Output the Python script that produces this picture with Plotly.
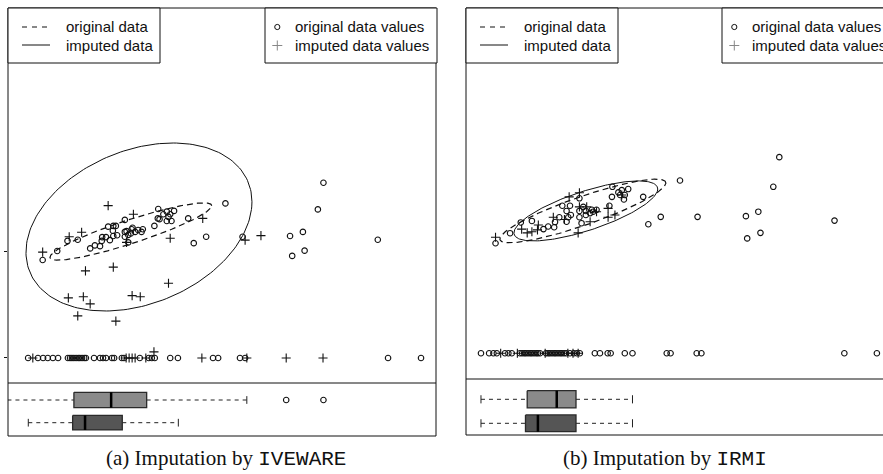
import numpy as np
import plotly.graph_objects as go

W, H = 883, 474

# ---------------- panel (a): IVEWARE ----------------
a_orig_x = [8.1, 11.5, 13.9, 16.3, 19.2, 20.3, 21.5, 21.9, 22.0, 22.9, 23.8, 23.4, 24.5, 24.6, 25.2,
            24.6, 25.5, 27.3, 27.3, 27.7, 28.1, 28.7, 28.9, 29.1, 29.7, 30.4, 31.2, 31.5, 28.1, 27.3,
            34.2, 35.1, 35.0, 35.4, 36.3, 37.1, 37.5, 37.9, 37.1, 38.2, 38.8, 42.1, 43.4, 46.3, 50.8,
            54.8, 65.9, 68.9, 66.4, 69.3, 72.4, 73.7, 86.4]
a_orig_y = [32.8, 35.2, 37.9, 38.2, 35.9, 36.7, 36.5, 37.9, 38.9, 38.9, 38.1, 41.7, 40.6, 41.9, 41.9,
            39.2, 39.4, 43.5, 40.3, 40.5, 39.5, 39.9, 41.0, 41.4, 40.3, 40.8, 40.3, 41.0, 37.5, 39.0,
            41.9, 46.4, 43.9, 43.7, 45.0, 45.7, 44.3, 45.0, 43.2, 43.2, 45.9, 43.9, 37.3, 39.0, 47.9,
            39.0, 39.2, 40.3, 33.9, 35.3, 46.3, 53.4, 38.2]
a_imp_x = [8.1, 23.4, 29.3, 45.5, 14.3, 17.2, 27.7, 37.9, 55.4, 59.1, 18.1, 24.6, 37.5, 14.1, 17.6,
           19.2, 29.0, 30.9, 16.3, 25.2]
a_imp_y = [34.9, 47.3, 45.0, 43.9, 39.0, 40.2, 37.5, 38.6, 38.1, 39.3, 29.9, 30.9, 26.6, 22.7, 23.0,
           21.1, 23.3, 23.0, 17.9, 16.5]
a_miss_level = 6.67
a_miss_orig_x = [4.7, 7.0, 8.2, 9.3, 10.5, 11.7, 14.0, 14.5, 14.95, 15.4, 15.9, 16.4, 16.8, 17.3, 17.8,
                 18.2, 20.1, 21.5, 22.2, 22.9, 24.3, 24.8, 26.6, 27.1, 30.8, 32.9, 33.6, 34.3, 37.9,
                 39.7, 47.9, 49.1, 54.2, 55.4, 88.8, 96.5]
a_miss_imp_x = [5.8, 27.6, 28.3, 29.0, 29.7, 32.2, 34.1, 45.3, 55.8, 65.0, 73.6]
a_miss_imp_y = [6.67, 6.67, 6.67, 6.67, 6.67, 6.67, 8.3, 6.67, 6.67, 6.67, 6.67]
# ellipses: centre x, centre y, sd x, sd y, correlation
a_ell_orig = [28.7, 40.4, 18.9, 7.63, 0.90]
a_ell_imp = [30.6, 41.6, 26.4, 22.4, 0.30]
# boxplots: lower whisker, q1, median, q3, upper whisker
a_box_orig = [-2.0, 15.4, 24.1, 32.4, 55.8]
a_box_orig_out = [65.0, 73.7]
a_box_imp = [4.74, 15.1, 18.0, 26.7, 39.8]
a_box_imp_out = []

# ---------------- panel (b): IRMI ----------------
b_orig_x = [6.9, 10.3, 12.8, 15.4, 18.1, 19.2, 20.6, 20.8, 21.8, 22.5, 23.9, 23.5, 24.3, 24.5, 23.5,
            26.5, 26.5, 26.5, 27.0, 27.4, 28.0, 28.0, 29.0, 29.4, 29.7, 30.5, 34.2, 33.5, 34.1, 35.6,
            36.0, 36.4, 36.9, 37.1, 37.9, 41.4, 42.6, 45.5, 50.0, 54.1, 65.4, 68.3, 65.7, 68.8, 71.8,
            73.2, 86.1]
b_orig_y = [36.6, 39.3, 42.2, 42.6, 40.4, 41.1, 40.9, 42.3, 43.6, 46.7, 43.6, 45.3, 46.7, 44.2, 42.4,
            48.7, 45.3, 43.6, 42.0, 46.4, 45.3, 44.2, 44.7, 45.6, 45.1, 45.6, 51.8, 46.7, 49.1, 50.3,
            49.6, 50.9, 48.4, 49.6, 51.2, 49.1, 41.7, 43.7, 53.5, 43.7, 43.9, 45.1, 37.9, 39.4, 51.8,
            59.8, 42.7]
b_imp_x = [6.9, 13.0, 14.3, 15.4, 16.7, 16.9, 24.1, 26.5, 26.5, 28.2, 29.0, 33.2, 33.2, 34.8, 26.2,
           20.4, 23.0, 30.5, 36.4]
b_imp_y = [38.2, 40.4, 39.4, 39.7, 40.2, 41.5, 49.1, 50.2, 46.4, 46.4, 42.4, 46.0, 43.6, 44.2, 39.4,
           43.6, 43.0, 45.1, 49.6]
b_miss_level = 6.93
b_miss_orig_x = [3.5, 5.4, 6.4, 7.2, 9.1, 9.9, 10.7, 12.6, 13.1, 13.6, 14.0, 14.5, 15.0, 15.4, 15.9,
                 16.4, 16.8, 17.3, 18.7, 19.2, 19.6, 20.1, 20.6, 21.0, 21.5, 22.0, 22.4, 22.9, 23.4,
                 24.3, 25.2, 25.9, 26.6, 30.1, 31.3, 33.1, 33.8, 37.1, 38.9, 46.9, 47.8, 53.9, 55.0,
                 88.4, 96.0]
b_miss_imp_x = [8.1, 12.0, 18.5, 23.8, 25.0, 26.2]
b_ell_orig = [27.3, 45.3, 19.4, 8.57, 0.88]
b_ell_imp = [28.0, 45.3, 16.8, 8.09, 0.73]
b_box_orig = [3.5, 14.3, 21.2, 25.7, 38.9]
b_box_imp = [3.5, 13.9, 16.8, 25.7, 38.9]

legend_line_labels = ["original data", "imputed data"]
legend_point_labels = ["original data values", "imputed data values"]
captions = [("(a) Imputation by ", "IVEWARE"), ("(b) Imputation by ", "IRMI")]

# ---------------- helpers ----------------
def px(p):
    return p / W


def py(p):
    return 1 - p / H


def ellipse(par, n=200):
    cx, cy, sx, sy, r = par
    t = np.linspace(0, 2 * np.pi, n)
    x = cx + sx * np.cos(t)
    y = cy + sy * (r * np.cos(t) + np.sqrt(1 - r * r) * np.sin(t))
    return x, y


fig = go.Figure()
BLACK = "#111111"
circ = dict(symbol="circle-open", size=5.5, color=BLACK, line=dict(width=1.1, color=BLACK))
cross = dict(symbol="cross-thin-open", size=6.5, color=BLACK, line=dict(width=1.1, color=BLACK))


def scatter_panel(xa, ya, ox, oy, ix, iy, mox, mlev, mix, miy, e_orig, e_imp):
    fig.add_trace(go.Scatter(x=ox, y=oy, mode="markers", marker=circ, xaxis=xa, yaxis=ya))
    fig.add_trace(go.Scatter(x=ix, y=iy, mode="markers", marker=cross, xaxis=xa, yaxis=ya))
    fig.add_trace(go.Scatter(x=mox, y=[mlev] * len(mox), mode="markers", marker=circ, xaxis=xa, yaxis=ya))
    fig.add_trace(go.Scatter(x=mix, y=miy, mode="markers", marker=cross, xaxis=xa, yaxis=ya))
    ex, ey = ellipse(e_orig)
    fig.add_trace(go.Scatter(x=ex, y=ey, mode="lines", line=dict(color=BLACK, width=1.2, dash="6px,4px"),
                             xaxis=xa, yaxis=ya))
    ex, ey = ellipse(e_imp)
    fig.add_trace(go.Scatter(x=ex, y=ey, mode="lines", line=dict(color=BLACK, width=1),
                             xaxis=xa, yaxis=ya))


def add_box(xa, ya, st, pos, half, fill, outl):
    lo, q1, med, q3, hi = st
    c = 0.17
    dash = dict(color="#222", width=1, dash="4px,4px")
    fig.add_trace(go.Scatter(x=[lo, q1], y=[pos, pos], mode="lines", line=dash, xaxis=xa, yaxis=ya))
    fig.add_trace(go.Scatter(x=[q3, hi], y=[pos, pos], mode="lines", line=dash, xaxis=xa, yaxis=ya))
    for v in (lo, hi):
        fig.add_trace(go.Scatter(x=[v, v], y=[pos - c, pos + c], mode="lines",
                                 line=dict(color="#222", width=1), xaxis=xa, yaxis=ya))
    fig.add_trace(go.Scatter(x=[q1, q3, q3, q1, q1], y=[pos - half, pos - half, pos + half, pos + half, pos - half],
                             mode="lines", fill="toself", fillcolor=fill,
                             line=dict(color="#2a2a2a", width=1.3), xaxis=xa, yaxis=ya))
    fig.add_trace(go.Scatter(x=[med, med], y=[pos - half, pos + half], mode="lines",
                             line=dict(color="#000", width=2.5), xaxis=xa, yaxis=ya))
    if outl:
        fig.add_trace(go.Scatter(x=outl, y=[pos] * len(outl), mode="markers", marker=circ, xaxis=xa, yaxis=ya))


scatter_panel("x", "y", a_orig_x, a_orig_y, a_imp_x, a_imp_y, a_miss_orig_x, a_miss_level,
              a_miss_imp_x, a_miss_imp_y, a_ell_orig, a_ell_imp)
add_box("x2", "y2", a_box_orig, 1, 0.34, "#8a8a8a", a_box_orig_out)
add_box("x2", "y2", a_box_imp, 2, 0.32, "#555555", a_box_imp_out)

scatter_panel("x3", "y3", b_orig_x, b_orig_y, b_imp_x, b_imp_y, b_miss_orig_x, b_miss_level,
              b_miss_imp_x, [b_miss_level] * len(b_miss_imp_x), b_ell_orig, b_ell_imp)
add_box("x4", "y4", b_box_orig, 1, 0.36, "#8a8a8a", [])
add_box("x4", "y4", b_box_imp, 2, 0.35, "#555555", [])

ax_common = dict(showgrid=False, zeroline=False, showline=False, showticklabels=False, ticks="")
layout = dict(
    width=W, height=H, margin=dict(l=0, r=0, t=0, b=0),
    paper_bgcolor="white", plot_bgcolor="white", showlegend=False,
    xaxis=dict(domain=[px(8), px(436)], range=[0, 100], anchor="y", **ax_common),
    yaxis=dict(domain=[py(383), py(8)], range=[0, 100], anchor="x", showgrid=False, zeroline=False,
               showline=False, showticklabels=False, ticks="outside", ticklen=3, tickcolor=BLACK,
               tickvals=[a_miss_level, 35.2]),
    xaxis2=dict(domain=[px(8), px(436)], range=[0, 100], anchor="y2", **ax_common),
    yaxis2=dict(domain=[py(436), py(383)], range=[2.586, 0.251], anchor="x2", **ax_common),
    xaxis3=dict(domain=[px(466), 1], range=[0, (W - 466) / 4.28], anchor="y3", **ax_common),
    yaxis3=dict(domain=[py(379), py(8)], range=[0, 100], anchor="x3", **ax_common),
    xaxis4=dict(domain=[px(466), 1], range=[0, (W - 466) / 4.28], anchor="y4", **ax_common),
    yaxis4=dict(domain=[py(435), py(379)], range=[2.487, 0.154], anchor="x4", **ax_common),
)
fig.update_layout(**layout)

shapes = []
annotations = []
LW = dict(color=BLACK, width=1)


def rect(x0, y0, x1, y1, fill=None):
    d = dict(type="rect", xref="paper", yref="paper", x0=px(x0), x1=px(x1), y0=py(y1), y1=py(y0), line=LW,
             layer="above")
    if fill:
        d["fillcolor"] = fill
    shapes.append(d)


def hline(x0, x1, y, dash=None, color=BLACK):
    shapes.append(dict(type="line", xref="paper", yref="paper", x0=px(x0), x1=px(x1), y0=py(y), y1=py(y),
                       line=dict(color=color, width=1, dash=dash) if dash else dict(color=color, width=1),
                       layer="above"))


def text(x, y, s, size=15, anchor="left", family="Liberation Sans, Arial, sans-serif"):
    annotations.append(dict(xref="paper", yref="paper", x=px(x), y=py(y), text=s, showarrow=False,
                            xanchor=anchor, yanchor="middle", font=dict(family=family, size=size, color=BLACK)))


for (L, R, div, bot, lg2) in [(8, 436, 383, 436, 265), (466, 900, 379, 435, 722)]:
    rect(L, 8, R, bot)
    hline(L, R, div)
    # legend boxes
    rect(L, 8, L + 152, 63, fill="white")
    rect(lg2, 8, lg2 + 172, 63, fill="white")
    hline(L + 14, L + 42, 27, dash="5px,5px")
    hline(L + 14, L + 42, 45)
    text(L + 56, 27, legend_line_labels[0])
    text(L + 56, 45.5, legend_line_labels[1])
    cx = lg2 + 12.3
    shapes.append(dict(type="circle", xref="paper", yref="paper", x0=px(cx - 2.6), x1=px(cx + 2.6),
                       y0=py(27 + 2.6), y1=py(27 - 2.6), line=dict(color=BLACK, width=1), layer="above"))
    hline(cx - 5, cx + 5, 45.5, color="#888888")
    shapes.append(dict(type="line", xref="paper", yref="paper", x0=px(cx), x1=px(cx), y0=py(40.5), y1=py(50.5),
                       line=dict(color="#888888", width=1), layer="above"))
    text(lg2 + 27.6, 27, legend_point_labels[0])
    text(lg2 + 27.6, 45.5, legend_point_labels[1])

for (cxp, (a, b)) in zip([226, 665], captions):
    text(cxp, 458, a + '<span style="font-family:Liberation Mono, Courier New, monospace">' + b + "</span>",
         size=21, anchor="center", family="Liberation Serif, Times New Roman, serif")

fig.update_layout(shapes=shapes, annotations=annotations)
fig.write_html("out.html")
